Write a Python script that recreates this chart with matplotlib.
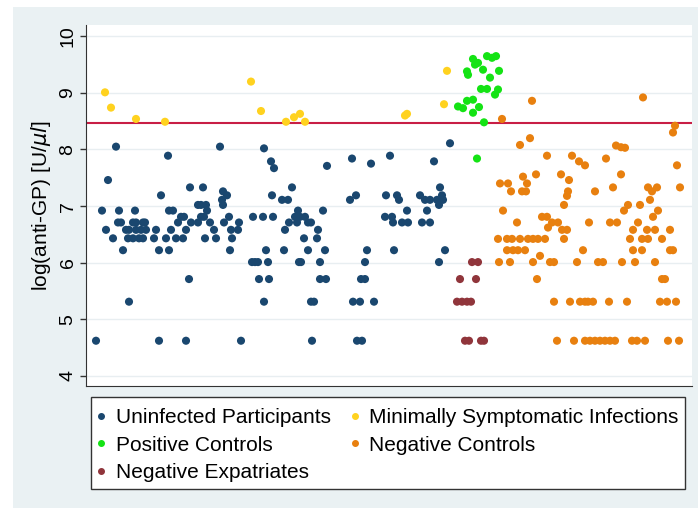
import matplotlib.pyplot as plt
from matplotlib.patches import Rectangle
from matplotlib.lines import Line2D

plt.rcParams['font.family'] = ['Liberation Sans', 'DejaVu Sans']

# Data: (log titre, [jitter positions]) for every group
uninfected = [
    (8.11, [450]), (8.05, [116, 220]), (8.02, [264]), (7.89, [168, 390]),
    (7.84, [352]), (7.79, [271, 434]), (7.75, [371]), (7.71, [327]),
    (7.67, [274]), (7.46, [108]),
    (7.33, [190, 203, 292, 440]), (7.26, [223]),
    (7.19, [161, 227, 272, 356, 386, 397, 420, 442]),
    (7.11, [222, 282, 288, 350, 399, 425, 430, 437, 443]),
    (7.02, [198, 201, 206, 223, 439]),
    (6.92, [102, 119, 135, 169, 173, 207, 298, 323, 407, 427]),
    (6.81, [181, 184, 201, 204, 229, 253, 263, 273, 295, 300, 305, 385, 392]),
    (6.71, [118, 121, 133, 136, 143, 145, 178, 191, 198, 210, 224, 239,
            289, 297, 308, 311, 393, 402, 408, 422, 430]),
    (6.58, [106, 126, 129, 136, 141, 146, 156, 171, 186, 214, 231, 238, 285, 318]),
    (6.43, [113, 128, 133, 139, 143, 154, 166, 176, 183, 205, 216, 232, 304, 317]),
    (6.22, [123, 159, 169, 230, 266, 284, 308, 325, 367, 394, 445]),
    (6.01, [252, 255, 258, 268, 299, 301, 320, 365, 439]),
    (5.71, [189, 259, 269, 320, 326, 361, 365]),
    (5.31, [129, 264, 311, 314, 353, 360, 374]),
    (4.62, [96, 159, 186, 241, 312, 357, 362]),
]
minimally = [
    (9.20, [251]), (9.39, [447]), (9.01, [105]), (8.80, [444]), (8.74, [111]),
    (8.68, [261]), (8.63, [300, 407]), (8.60, [405]), (8.57, [294]),
    (8.54, [136]), (8.49, [165, 286, 305]),
]
positive = [
    (9.65, [487, 496]), (9.62, [492]), (9.60, [473]), (9.53, [478]), (9.50, [475]),
    (9.41, [483]), (9.39, [499]), (9.38, [467]), (9.32, [468]), (9.27, [490]),
    (9.07, [481, 487]), (9.06, [498]), (8.97, [495]), (8.88, [473]), (8.86, [467]),
    (8.76, [458]), (8.75, [479]), (8.73, [463]), (8.65, [473]), (8.48, [484]),
    (7.84, [477]),
]
negative_controls = [
    (8.92, [643]), (8.86, [532]), (8.54, [502]), (8.42, [675]), (8.30, [673]),
    (8.20, [530]), (8.08, [520]), (8.07, [616]), (8.04, [621]), (8.03, [625]),
    (7.89, [547, 572]), (7.84, [606]), (7.79, [579]), (7.72, [585, 677]),
    (7.56, [536, 561, 621]), (7.52, [523]), (7.46, [569]), (7.40, [500, 508, 527]),
    (7.33, [613, 648, 657, 680]), (7.26, [511, 522, 526, 568, 595, 652]),
    (7.18, [567]), (7.11, [650]), (7.02, [564, 628, 640]), (6.92, [503, 624, 658]),
    (6.81, [542, 547, 653]), (6.71, [517, 552, 558, 589, 610, 617, 638]),
    (6.62, [548]), (6.58, [562, 567, 633, 647, 655, 670]),
    (6.42, [498, 507, 512, 520, 528, 533, 538, 545, 564, 630, 642, 648, 662]),
    (6.22, [507, 513, 518, 525, 583, 633, 642, 670, 673]), (6.12, [540]),
    (6.01, [499, 510, 533, 550, 554, 577, 598, 603, 622, 635, 655]),
    (5.71, [537, 662, 665]),
    (5.31, [554, 570, 580, 585, 588, 593, 609, 627, 660, 667, 676]),
    (4.62, [557, 574, 585, 590, 595, 600, 605, 610, 615, 632, 637, 645, 668, 679]),
]
expatriates = [
    (6.01, [472, 478]), (5.71, [460, 476]), (5.31, [457, 462, 467, 471]),
    (4.62, [465, 469, 481, 484]),
]
cutoff = 8.47

groups = [
    ('Uninfected Participants', uninfected, '#1A476F'),
    ('Positive Controls', positive, '#14E314'),
    ('Negative Expatriates', expatriates, '#90353B'),
    ('Minimally Symptomatic Infections', minimally, '#FFD21F'),
    ('Negative Controls', negative_controls, '#E8800F'),
]

W, H = 698, 508
fig = plt.figure(figsize=(W / 100, H / 100), dpi=100)
fig.patches.append(Rectangle((13 / W, 0), 1 - 13 / W, 1 - 7 / H, transform=fig.transFigure,
                             facecolor='#EAF1F3', edgecolor='none', zorder=-2))
ax = fig.add_axes([86 / W, 1 - 386 / H, 606 / W, 361 / H])
ax.set_zorder(2)

draw_order = [0, 3, 1, 2, 4]
for k in draw_order:
    label, rows, color = groups[k]
    xs, ys = [], []
    for val, pos in rows:
        xs += pos
        ys += [val] * len(pos)
    ax.scatter(xs, ys, s=34, color=color, edgecolors='none', zorder=3)

ax.axhline(cutoff, color='#C81E45', lw=1.5, zorder=2)

ax.set_xlim(86, 692)
ax.set_ylim(3.82, 10.2)
ax.set_yticks(range(4, 11))
ax.grid(axis='y', color='#E8EEF1', lw=1, zorder=0)
ax.set_xticks([])
ax.tick_params(axis='y', labelsize=14, labelrotation=90, length=4.3, width=1,
               color='#333333', pad=2.5)
for t in ax.get_yticklabels():
    t.set_va('center')
for s in ['top', 'right']:
    ax.spines[s].set_visible(False)
for s in ['left', 'bottom']:
    ax.spines[s].set_color('#333333')
ax.set_ylabel(r'log(anti-GP) [U/$\mu l$]', fontsize=15)
ax.yaxis.set_label_coords(-0.054, 0.5)

# legend box
fig.patches.append(Rectangle((91 / W, 1 - 489 / H), 594 / W, 92 / H, transform=fig.transFigure,
                             facecolor='white', edgecolor='#333333', lw=1, zorder=1))
handles = [Line2D([], [], marker='o', ls='none', color=c, markersize=4) for _, _, c in groups]
leg = fig.legend(handles, [g[0] for g in groups], ncol=2, frameon=False, fontsize=15,
                 loc='upper left', bbox_to_anchor=(93 / W, 1 - 408 / H), borderpad=0,
                 borderaxespad=0, handlelength=0.8, handletextpad=0.3, columnspacing=0.75,
                 labelspacing=0.42)
leg.set_zorder(3)

fig.savefig('out.png', dpi=100)
